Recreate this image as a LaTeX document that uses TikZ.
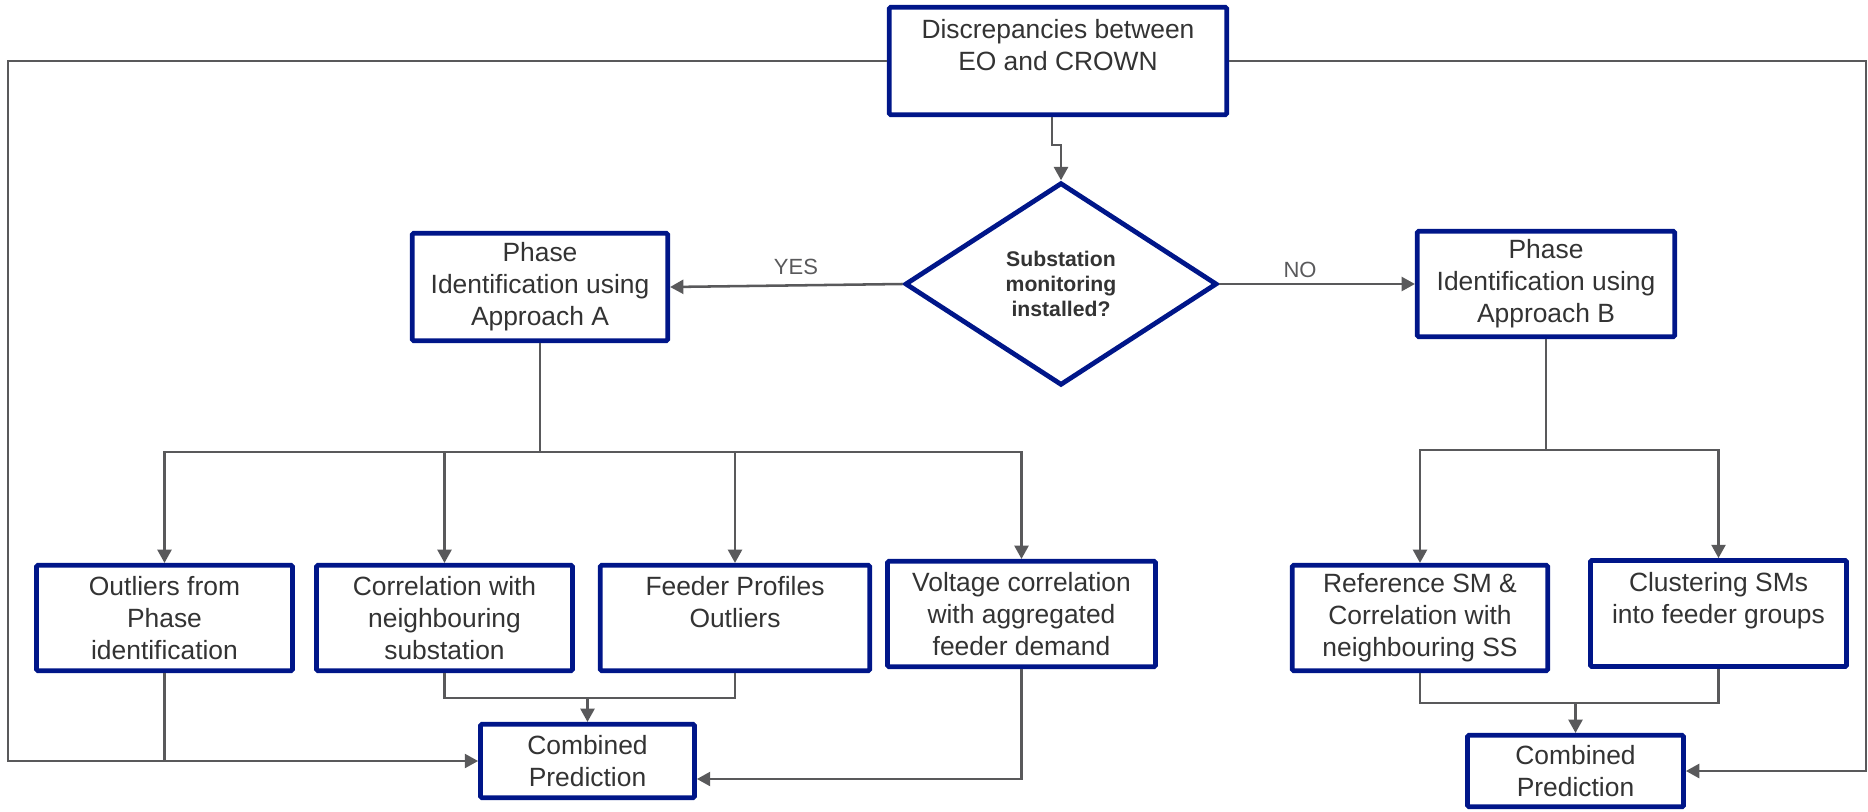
\documentclass[tikz,border=0pt]{standalone}
\usepackage{fontspec}
\setmainfont{Liberation Sans}
\usepackage{tikz}
\usetikzlibrary{arrows.meta,shapes.geometric}

\definecolor{navy}{RGB}{0,22,137}
\definecolor{txtgray}{RGB}{51,51,51}
\definecolor{linegray}{RGB}{89,89,91}

\begin{document}
\begin{tikzpicture}[x=0.75pt,y=0.75pt,yscale=-1,xscale=1,
  box/.style={draw=navy,line width=3.6pt,rounded corners=1pt,fill=white,inner sep=0pt,align=center,text=txtgray,font=\fontsize{19.8}{24}\selectfont},
  decision/.style={diamond,draw=navy,line width=3.6pt,fill=white,inner sep=0pt,aspect=1.5,align=center,text=txtgray,font=\bfseries\fontsize{15.9}{19}\selectfont},
  answer/.style={inner sep=0pt,text=linegray,font=\fontsize{16.5}{20}\selectfont},
  line/.style={draw=linegray,line width=1.9pt},
  conn/.style={line,-{Triangle[width=10.5pt,length=10pt]}}]
%set diagram size
\useasboundingbox (0,0) rectangle (1868,811);

%Shape: Rectangle (top)
\node [box,minimum width=253pt,minimum height=80.5pt] (top) at (1058,61) {Discrepancies between\\EO and CROWN\\~};
%Shape: Diamond
\node [decision,minimum width=234pt,minimum height=152pt] (dia) at (1061,284) {Substation\\monitoring\\installed?};

%Shape: Rectangle (approaches)
\node [box,minimum width=191.5pt,minimum height=80.5pt] (appA) at (540,287) {Phase\\Identification using\\Approach A};
\node [box,minimum width=193pt,minimum height=79pt] (appB) at (1546,284) {Phase\\Identification using\\Approach B};

%Shape: Rectangle (approach A methods)
\node [box,minimum width=192pt,minimum height=79pt] (outl) at (164.5,618) {Outliers from\\Phase\\identification};
\node [box,minimum width=192pt,minimum height=79pt] (corr) at (444.5,618) {Correlation with\\neighbouring\\substation};
\node [box,minimum width=202pt,minimum height=79pt] (feed) at (735,618) {Feeder Profiles\\Outliers\\~};
\node [box,minimum width=201pt,minimum height=79pt] (volt) at (1021.5,614) {Voltage correlation\\with aggregated\\feeder demand};
\node [box,minimum width=160.5pt,minimum height=55pt] (combA) at (587.5,761) {Combined\\Prediction};

%Shape: Rectangle (approach B methods)
\node [box,minimum width=191.5pt,minimum height=79pt] (refsm) at (1420,618) {Reference SM \&\\Correlation with\\neighbouring SS};
\node [box,minimum width=192pt,minimum height=79.5pt] (clus) at (1718.5,613.5) {Clustering SMs\\into feeder groups\\~};
\node [box,minimum width=162pt,minimum height=53.5pt] (combB) at (1575.5,771) {Combined\\Prediction};

% Text Node
\node [answer] (yes) at (796,267) {YES};
% Text Node
\node [answer] (no) at (1300,269.5) {NO};

%Bends of the connectors
\coordinate (lft) at (8,61);
\coordinate (rgt) at (1866,61);
\coordinate (busA) at (540,452);
\coordinate (busB) at (1546,450);
\coordinate (joinA) at (587.5,698);
\coordinate (joinB) at (1575.5,703);
\coordinate (vbend) at (1021.5,779);

%Straight Lines
\draw [conn] ([xshift=-4.5pt]top.south) -- ++(0,28) -| (dia.north);
\draw [conn] (dia.west) -- (appA.east);
\draw [conn] (dia.east) -- (appB.west);
\draw [conn] (top.west) -- (lft) |- (combA.west);
\draw [conn] (top.east) -- (rgt) |- (combB.east);

%Straight Lines (approach A)
\draw [line] (appA.south) -- (busA);
\foreach \n in {outl,corr,feed,volt}
  \draw [conn] (busA) -| (\n.north);
\draw [line] (outl.south) -- (outl.south |- combA.west);
\draw [line] (corr.south) |- (joinA) -| (feed.south);
\draw [conn] (joinA) -- (combA.north);
\draw [conn] (volt.south) -- (vbend) -- (vbend -| combA.east);

%Straight Lines (approach B)
\draw [line] (appB.south) -- (busB);
\foreach \n in {refsm,clus}
  \draw [conn] (busB) -| (\n.north);
\draw [line] (refsm.south) |- (joinB) -| (clus.south);
\draw [conn] (joinB) -- (combB.north);

\end{tikzpicture}
\end{document}
